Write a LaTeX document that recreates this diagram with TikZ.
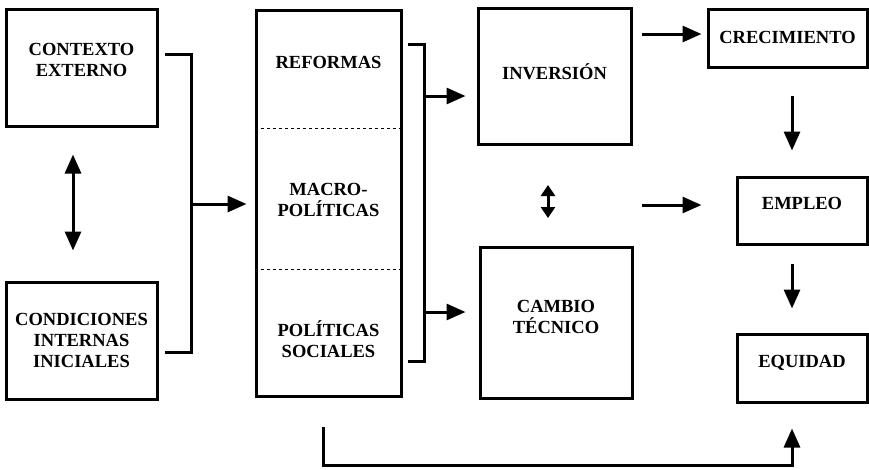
\documentclass[tikz,border=0pt]{standalone}
\usepackage{fontspec}
\setmainfont{Liberation Serif}
\usetikzlibrary{arrows.meta}
\tikzset{
  box/.style={draw, line width=3pt, inner sep=0pt},
  lbl/.style={font=\bfseries\fontsize{18.5}{21}\selectfont, align=center},
  conn/.style={line width=3pt},
  arr/.style={conn, -{Triangle[length=19pt,width=16pt]}},
  darr/.style={conn, {Triangle[length=19pt,width=16pt]}-{Triangle[length=19pt,width=16pt]}},
  sdarr/.style={conn, {Triangle[length=11pt,width=14pt]}-{Triangle[length=11pt,width=14pt]}}
}

\begin{document}
\begin{tikzpicture}[x=1pt, y=-1pt]
			%%%%% START %%%%%
			\useasboundingbox (0,0) rectangle (869,469);
			
			% boxes
			\node[box, minimum width=151, minimum height=117] (ctx) at (81.5, 67.5) {};
			\node[box, minimum width=151, minimum height=117] (cond) at (81.5, 340.5) {};
			\node[box, minimum width=145, minimum height=386] (pol) at (328.5, 203) {};
			\node[box, minimum width=153, minimum height=136] (inv) at (554.5, 76) {};
			\node[box, minimum width=152, minimum height=151] (cam) at (556, 322.5) {};
			\node[box, minimum width=159, minimum height=58] (cre) at (787.5, 38) {};
			\node[box, minimum width=130, minimum height=67] (emp) at (802, 210.5) {};
			\node[box, minimum width=130, minimum height=68] (equ) at (802, 368) {};
			
			\draw[dashed, line width=1pt] (pol.west |- 0,128) -- (pol.east |- 0,128);
			\draw[dashed, line width=1pt] (pol.west |- 0,269) -- (pol.east |- 0,269);
			
			% texts
			\node[lbl] (ctxT) at (81.5, 60) {CONTEXTO\\EXTERNO};
			\node[lbl] (condT) at (81.5, 340) {CONDICIONES\\INTERNAS\\INICIALES};
			\node[lbl] (refT) at (328.5, 62) {REFORMAS};
			\node[lbl] (macT) at (328.5, 200) {MACRO-\\POLÍTICAS};
			\node[lbl] (socT) at (328.5, 339) {POLÍTICAS\\SOCIALES};
			\node[lbl] (invT) at (554.5, 72) {INVERSIÓN};
			\node[lbl] (camT) at (556, 317) {CAMBIO\\TÉCNICO};
			\node[lbl] (creT) at (787.5, 37) {CRECIMIENTO};
			\node[lbl] (empT) at (802, 203) {EMPLEO};
			\node[lbl] (equT) at (802, 363) {EQUIDAD};
			
			% left bracket
			\coordinate (lA) at (165, 54);
			\coordinate (lB) at (191, 352);
			\coordinate (lC) at (165, 352);
			\coordinate (lM) at (191, 204);
			\draw[conn] (lA) -| (lB) -- (lC);
			\draw[arr, shorten >=8pt] (lM) -- (pol.west |- lM);
			\draw[darr, shorten <=27pt, shorten >=30pt] (ctx.south -| 73,0) -- (cond.north -| 73,0);
			
			% right bracket
			\coordinate (rA) at (408, 44);
			\coordinate (rB) at (424, 361);
			\coordinate (rC) at (408, 361);
			\coordinate (rU) at (424, 96);
			\coordinate (rD) at (424, 312);
			\draw[conn] (rA) -| (rB) -- (rC);
			\draw[arr, shorten >=11pt] (rU) -- (inv.west |- rU);
			\draw[arr, shorten >=13pt] (rD) -- (cam.west |- rD);
			
			% middle arrows
			\coordinate (vA) at (548, 185);
			\coordinate (vB) at (548, 218);
			\draw[sdarr] (vA) -- (vB);
			\coordinate (cA) at (642, 34);
			\coordinate (eA) at (642, 205);
			\draw[arr, shorten >=5pt] (cA) -- (cre.west |- cA);
			\draw[arr, shorten >=34pt] (eA) -- (emp.west |- eA);
			
			% right column
			\draw[arr, shorten <=27pt, shorten >=25pt] (cre.south -| 792,0) -- (emp.north -| 792,0);
			\draw[arr, shorten <=18pt, shorten >=24pt] (emp.south -| 792,0) -- (equ.north -| 792,0);
			
			% feedback
			\coordinate (fA) at (323, 427);
			\coordinate (fB) at (465.5, 465) ;
			\draw[arr, shorten >=25pt] (fA) -- (fA |- fB) -| (equ.south -| 792,0);
			
			%%%%% END %%%%%
\end{tikzpicture}
\end{document}
